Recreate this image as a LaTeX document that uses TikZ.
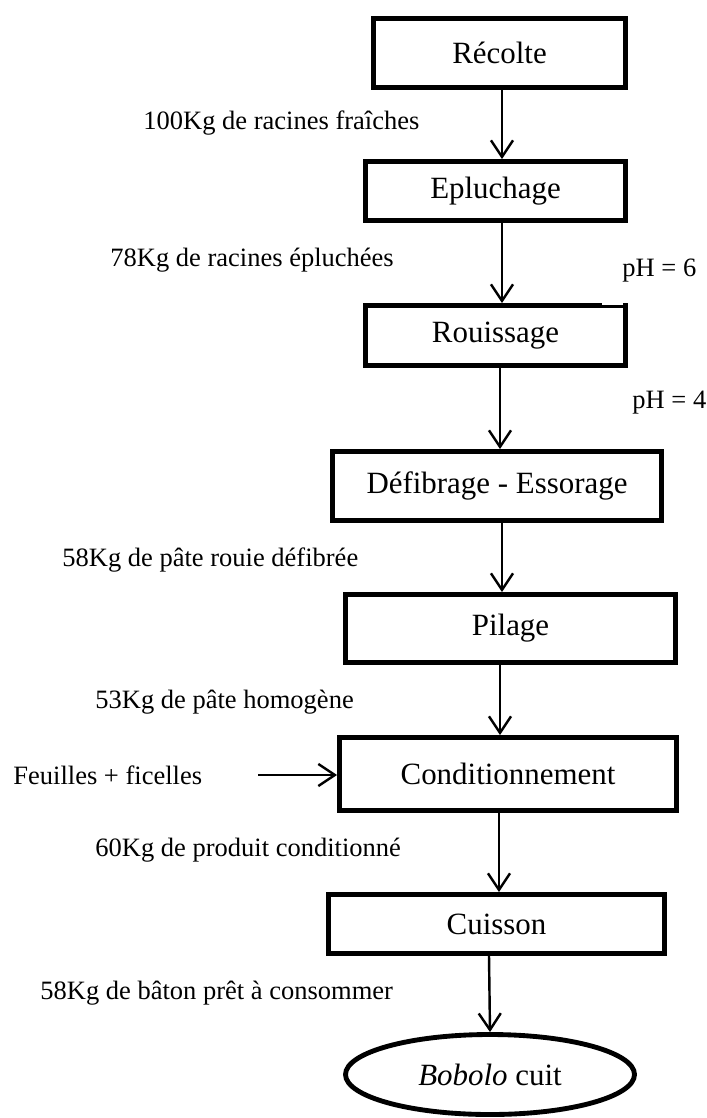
\documentclass[tikz,border=0pt]{standalone}
\usepackage{fontspec}
\setmainfont{Liberation Serif}
\usetikzlibrary{arrows.meta,shapes.geometric}
\begin{document}
\begin{tikzpicture}[x=0.4528pt,y=-0.4528pt,
  stepbox/.style 2 args={draw,line width=2.2pt,inner sep=0pt,
    minimum width=#1*0.4528pt,minimum height=#2*0.4528pt,
    font=\fontsize{14}{16}\selectfont},
  flow/.style={line width=1.1pt,-{Straight Barb[length=7.5pt,width=10pt,line width=1.1pt]}},
  lbl/.style={inner sep=0pt,anchor=west,font=\fontsize{12}{14}\selectfont}]
\useasboundingbox (0,0) rectangle (706,1118);

% process steps
\node[stepbox={252}{69}] (rec) at (499.5,53) {Récolte};
\node[stepbox={260}{59}] (epl) at (495.5,191) {Epluchage};
\node[stepbox={260}{60}] (rou) at (495.5,335.5) {Rouissage};
\node[stepbox={329}{69}] (def) at (497,486) {Défibrage - Essorage};
\node[stepbox={330}{68}] (pil) at (510.5,628.5) {Pilage};
\node[stepbox={337}{73}] (con) at (508,774) {Conditionnement};
\node[stepbox={336}{59}] (cui) at (496.5,924) {Cuisson};
\node[draw,ellipse,line width=2.2pt,inner sep=0pt,minimum width=289*0.4528pt,
  minimum height=80*0.4528pt,font=\fontsize{14}{16}\selectfont] (bob) at (490,1074.5) {\textit{Bobolo} cuit};

% thinner stretch at the right end of the Rouissage top edge
\coordinate (thin) at (602,0);
\fill[white] ([yshift=0.3pt]rou.north -| thin) rectangle ([xshift=-2.2pt,yshift=-2.3pt]rou.north east);
\draw[line width=1.2pt] ([yshift=-1.6pt]rou.north -| thin) -- ([xshift=-2.2pt,yshift=-1.6pt]rou.north east);

% quantities and conditions
\node[lbl] (q1) at (143,123) {100Kg de racines fraîches};
\node[lbl] (q2) at (110,260) {78Kg de racines épluchées};
\node[lbl] (ph6) at (622,271) {pH = 6};
\node[lbl] (ph4) at (632,403) {pH = 4};
\node[lbl] (q3) at (62,560) {58Kg de pâte rouie défibrée};
\node[lbl] (q4) at (95,702) {53Kg de pâte homogène};
\node[lbl] (feu) at (13,775) {Feuilles + ficelles};
\node[lbl] (q5) at (95,850) {60Kg de produit conditionné};
\node[lbl] (q6) at (40,993) {58Kg de bâton prêt à consommer};

% arrow lines
\coordinate (a1) at (502,0);
\coordinate (a2) at (502,0);
\coordinate (a3) at (500,0);
\coordinate (a4) at (502,0);
\coordinate (a5) at (500,0);
\coordinate (a6) at (499,0);
\coordinate (a7) at (489,0);
\coordinate (feuend) at (258,775);

\draw[flow] (rec.south -| a1) -- (epl.north -| a1);
\draw[flow] (epl.south -| a2) -- (rou.north -| a2);
\draw[flow] (rou.south -| a3) -- (def.north -| a3);
\draw[flow] (def.south -| a4) -- (pil.north -| a4);
\draw[flow] (pil.south -| a5) -- (con.north -| a5);
\draw[flow] (con.south -| a6) -- (cui.north -| a6);
\draw[flow] (cui.south -| a7) -- (bob.north);
\draw[flow] (feuend) -- (con.west |- feuend);
\end{tikzpicture}
\end{document}
